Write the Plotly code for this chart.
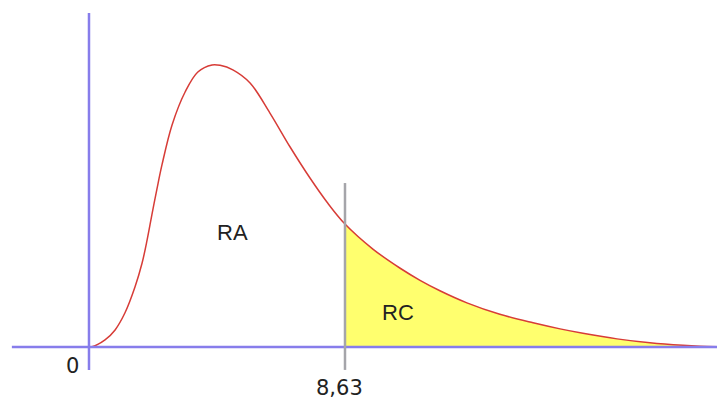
import plotly.graph_objects as go

# curve (x value, density)
x_vals = [0, 0.10, 0.54, 0.88, 1.21, 1.55, 1.79, 1.96, 2.12, 2.29, 2.46, 2.80, 3.24,
          3.67, 4.15, 4.42, 4.85, 5.43, 6.10, 6.78, 7.45, 8.02, 8.63, 9.57, 10.49,
          11.16, 11.83, 12.74, 13.85, 14.97, 15.88, 16.65, 17.80, 18.91, 20.02,
          20.60, 21.44]
y_vals = [0, 0.0001, 0.0034, 0.0082, 0.0163, 0.0288, 0.0403, 0.0514, 0.0634, 0.0758,
          0.0874, 0.1066, 0.1224, 0.1320, 0.1354, 0.1352, 0.1330, 0.1267, 0.1123,
          0.0960, 0.0811, 0.0696, 0.0590, 0.0470, 0.0378, 0.0320, 0.0270, 0.0212,
          0.0157, 0.0116, 0.0087, 0.0066, 0.0039, 0.0020, 0.0008, 0.0004, 0.0001]
critical = 8.63
critical_label = "8,63"
region_labels = ["RA", "RC"]

tail_x = [x for x in x_vals if x >= critical]
tail_y = [y for x, y in zip(x_vals, y_vals) if x >= critical]

fig = go.Figure()

# yellow rejection area
fig.add_trace(go.Scatter(x=tail_x, y=tail_y, mode="lines", fill="tozeroy",
                         fillcolor="rgb(255,255,110)", line=dict(width=0, shape="spline"),
                         hoverinfo="skip"))

axis_col = "rgb(135,125,235)"
# axes and critical line
fig.add_shape(type="line", x0=-2.6, x1=21.5, y0=0, y1=0,
              line=dict(color=axis_col, width=2.5))
fig.add_shape(type="line", x0=0, x1=0, y0=-0.011, y1=0.1603,
              line=dict(color=axis_col, width=2.5))
fig.add_shape(type="line", x0=critical, x1=critical, y0=-0.011, y1=0.0787,
              line=dict(color="rgb(165,165,170)", width=2.5))

# density curve
fig.add_trace(go.Scatter(x=x_vals, y=y_vals, mode="lines",
                         line=dict(color="rgb(215,60,55)", width=1.5, shape="spline"),
                         hoverinfo="skip"))

txt = dict(family="Liberation Sans, Arial", size=22, color="#222")
num = dict(family="DejaVu Sans", size=21, color="#222")
fig.add_annotation(x=4.84, y=0.055, text=region_labels[0], showarrow=False, font=txt)
fig.add_annotation(x=10.40, y=0.0168, text=region_labels[1], showarrow=False, font=txt)
fig.add_annotation(x=-0.57, y=-0.0091, text="0", showarrow=False, font=num)
fig.add_annotation(x=critical - 0.17, y=-0.0197, text=critical_label, showarrow=False,
                   font=num)

# the page body adds an 8px offset, so the figure is 8px smaller and ranges shifted
fig.update_layout(width=717, height=395, margin=dict(l=0, r=0, t=0, b=0),
                  plot_bgcolor="white", paper_bgcolor="white", showlegend=False,
                  xaxis=dict(range=[-2.73, 21.44], visible=False),
                  yaxis=dict(range=[-0.02688, 0.16272], visible=False))

fig.write_html("out.html")
